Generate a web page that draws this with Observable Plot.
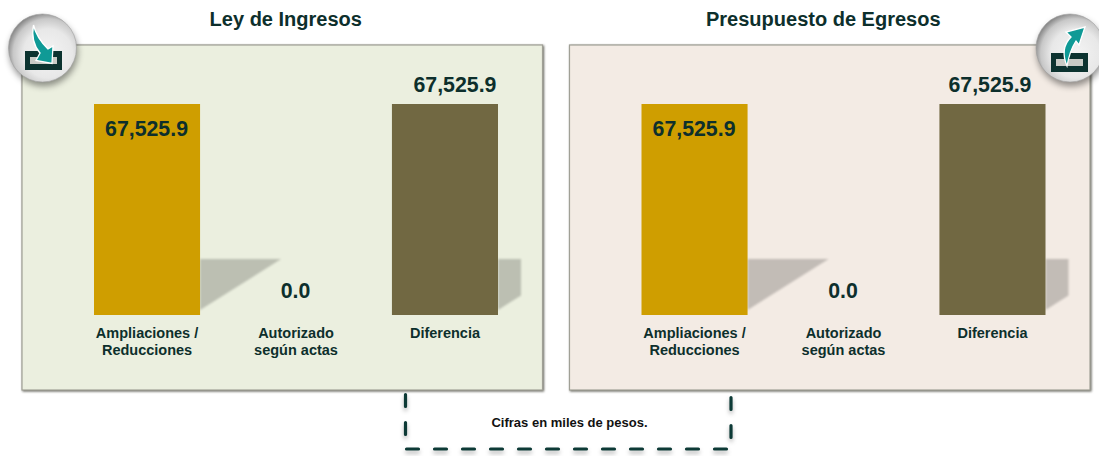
<!DOCTYPE html>
<html>
<head>
<meta charset="utf-8">
<script src="https://cdn.jsdelivr.net/npm/d3@7"></script>
<script src="https://cdn.jsdelivr.net/npm/@observablehq/plot@0.6"></script>
<style>
html,body{margin:0;padding:0;background:#fff;}
g[aria-label="rect"] rect{stroke:#a0a096;stroke-width:1.2;filter:drop-shadow(1.5px 1.5px 1px rgba(70,70,60,.8));}
</style>
</head>
<body>
<div id="chart"></div>
<script>
const panelNames = ["Ley de Ingresos", "Presupuesto de Egresos"];
const panelColors = ["#ebefdf", "#f3ebe4"];
const categories = ["Ampliaciones /\nReducciones", "Autorizado\nsegún actas", "Diferencia"];
const ingresos = [67525.9, 0.0, 67525.9];
const egresos = [67525.9, 0.0, 67525.9];
const barColors = ["#cf9e00", "#cf9e00", "#716842"];
const shadowLevel = [17900, 0, 17900];
const footnote = "Cifras en miles de pesos.";
const ink = "#0d2f2c";
const font = "'Liberation Sans', Arial, sans-serif";

const rows = panelNames.flatMap((panel, p) =>
  categories.map((category, c) => ({
    panel, category, c, p,
    value: (p === 0 ? ingresos : egresos)[c],
    color: barColors[c],
    shadow: shadowLevel[c]
  }))
);
const panels = panelNames.map((panel, i) => ({panel, color: panelColors[i]}));
const fmt = d3.format(",.1f");

function shadowRender(index, scales) {
  const g = d3.create("svg:g").style("filter", "blur(1px)");
  const bw = scales.x.bandwidth();
  const limit = scales.x(categories[2]) + bw + 23;
  for (const i of index) {
    const d = rows[i];
    if (!d.shadow) continue;
    const x0 = scales.x(d.category) + bw;
    const top = scales.y(d.shadow), bot = scales.y(1600);
    const xEnd = x0 + 81, x1 = Math.min(xEnd, limit);
    const y1 = bot + (top - bot) * (x1 - x0) / 81;
    g.append("polygon")
      .attr("points", `${x0},${top} ${x1},${top} ${x1},${y1} ${x0},${bot}`)
      .attr("fill", "#000").attr("fill-opacity", 0.2);
  }
  return g.node();
}

function valueMarks() {
  const shiftX = {"0-0": -1, "0-1": -1, "0-2": 9.5, "1-0": -1, "1-1": -1, "1-2": -3};
  const shiftY = [25, -24, -19];
  return rows.map(d => Plot.text([d], {
    fx: "panel", x: "category", y: "value",
    text: r => fmt(r.value),
    dx: shiftX[`${d.p}-${d.c}`], dy: shiftY[d.c],
    fontSize: 21.3, fontWeight: 700, fontFamily: font, fill: ink
  }));
}

function decor() {
  const g = d3.create("svg:g");
  const defs = g.append("defs");
  const grad = defs.append("radialGradient").attr("id", "ball")
    .attr("cx", "58%").attr("cy", "58%").attr("r", "60%");
  [[0, "#f4f4f4"], [0.6, "#e8e8e8"], [0.85, "#c8c8c8"], [1, "#8a8a8a"]].forEach(([o, c]) =>
    grad.append("stop").attr("offset", o).attr("stop-color", c));

  const icon = (cx, cy, trayX, trayY, arrow) => {
    const b = g.append("g");
    b.append("circle").attr("cx", cx).attr("cy", cy).attr("r", 34)
      .attr("fill", "url(#ball)").attr("stroke", "#a0a0a0").attr("stroke-width", .6)
      .style("filter", "drop-shadow(1px 4px 3px rgba(0,0,0,.4))");
    b.append("rect").attr("x", trayX).attr("y", trayY).attr("width", 37).attr("height", 19).attr("fill", "#0c3330");
    b.append("rect").attr("x", trayX + 5).attr("y", trayY + 6).attr("width", 27).attr("height", 7).attr("fill", "#c9cbc6");
    b.append("path").attr("d", arrow).attr("fill", "#0f9a96").attr("stroke", "#fff")
      .attr("stroke-width", 1.3).attr("stroke-linejoin", "miter");
  };
  icon(42.5, 48, 25, 51, "M33.5 25C31.5 36 34 46 40 53L36 60.5L52 63.5L53 46L48 49C42 43 36 36 33.5 25Z");
  icon(1070, 48, 1051, 53, "M1067 66C1062 54 1064 44 1071 37L1066 32L1085 27L1079 45L1076 41C1072 47 1069 55 1067 66Z");

  const dash = g.append("g").attr("fill", "none").attr("stroke", "#0d3a36")
    .attr("stroke-width", 3.2).attr("stroke-linecap", "round")
    .attr("stroke-dasharray", "12 16")
    .style("filter", "drop-shadow(0 3px 2px rgba(0,0,0,.3))");
  dash.append("path").attr("d", "M405.5 394.5V436");
  dash.append("path").attr("d", "M731 397.5V438");
  dash.append("path").attr("d", "M406.5 449H728");
  return g.node();
}

const plot = Plot.plot({
  width: 1099, height: 456,
  marginTop: 45, marginBottom: 66, marginLeft: 22, marginRight: 9,
  style: {background: "#fff", overflow: "visible"},
  fx: {domain: panelNames, paddingInner: 27 / 547.5, paddingOuter: 0, round: false, axis: null},
  x: {domain: categories, range: [94, 498], paddingInner: 0.288, paddingOuter: 0, round: false, axis: null},
  y: {domain: [0, 67525.9], range: [315, 104], axis: null},
  color: {type: "identity"},
  marks: [
    Plot.rect(panels, {fx: "panel", fill: "color"}),
    Plot.barY(rows, {fx: "panel", x: "category", y: "shadow", render: shadowRender}),
    Plot.barY(rows, {fx: "panel", x: "category", y: "value", fill: "color"}),
    ...valueMarks(),
    Plot.text(rows, {
      fx: "panel", x: "category", y: () => 0, text: "category",
      dy: 10, dx: -0.5, lineAnchor: "top", lineHeight: 1.2,
      fontSize: 14.5, fontWeight: 700, fontFamily: font, fill: ink
    }),
    Plot.text([panelNames[0]], {fx: d => d, text: d => d, frameAnchor: "top", dx: 3, dy: -34, fontSize: 20, fontWeight: 700, fontFamily: font, fill: ink}),
    Plot.text([panelNames[1]], {fx: d => d, text: d => d, frameAnchor: "top", dx: -7, dy: -34, fontSize: 20, fontWeight: 700, fontFamily: font, fill: ink}),
    Plot.text([footnote], {facet: "super", frameAnchor: "bottom", dx: 13, dy: 36, fontSize: 13, fontWeight: 700, fontFamily: font, fill: "#111"}),
    Plot.dot([0], {facet: "super", frameAnchor: "middle", render: decor})
  ]
});
document.getElementById("chart").appendChild(plot);
</script>
</body>
</html>
